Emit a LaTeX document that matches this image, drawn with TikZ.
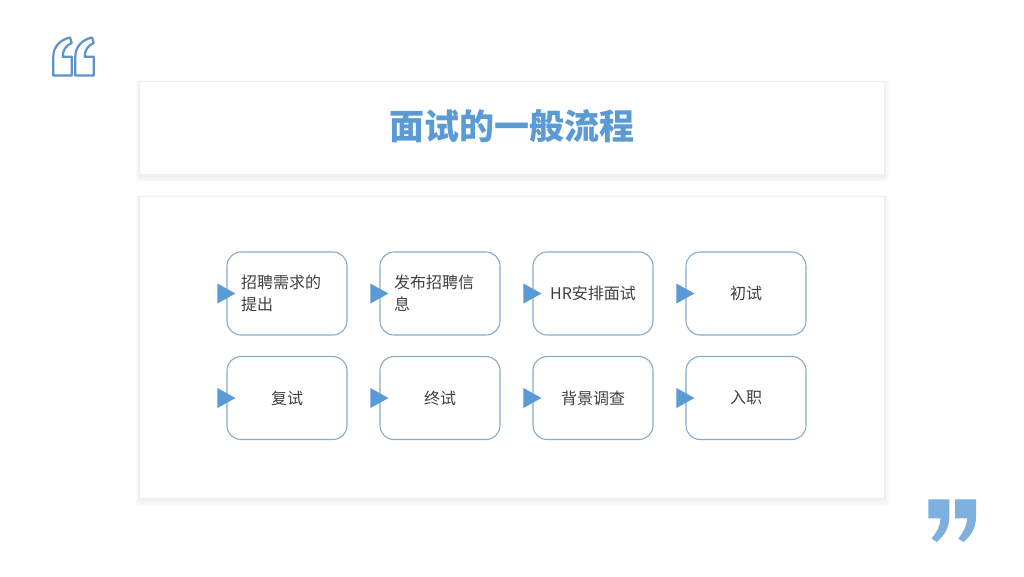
\documentclass[tikz,border=0pt]{standalone}
\usepackage{fontspec}
\setmainfont{Noto Sans CJK SC}
\newfontfamily\cjk{Noto Sans CJK SC}
\definecolor{titleblue}{HTML}{5B9BD5}
\definecolor{boxline}{HTML}{86ACCD}
\definecolor{triblue}{HTML}{5B9BD5}
\definecolor{quoteline}{HTML}{5D93C8}
\definecolor{quotefill}{HTML}{7EB0DF}
\definecolor{txt}{HTML}{404040}
\begin{document}
\begin{tikzpicture}[x=1pt,y=-1pt,
  stepbox/.style={draw=boxline,line width=1.1pt,rounded corners=14pt,fill=white,
    minimum width=120pt,minimum height=83pt,inner sep=0pt,font=\cjk\fontsize{16}{22}\selectfont,text=txt},
  leftbox/.style={stepbox,text width=92pt,align=left},
  tri/.style={fill=triblue},
  panel/.style={fill=white},
  shadow/.style={fill=black,opacity=0.013}
]
\useasboundingbox (0,0) rectangle (1024,576);
\fill[white] (0,0) rectangle (1024,576);

% panel shadows
\foreach \d in {1,2,3,4,5,6}{
  \fill[shadow] (140-\d*0.7,82-\d*0.3) rectangle (884+\d*0.8,174+\d*1.4);
  \fill[shadow] (140-\d*0.7,197-\d*0.3) rectangle (884+\d*0.8,498+\d*1.4);
}
\fill[panel] (140,82) rectangle (884,174);
\fill[panel] (140,197) rectangle (884,498);

% title
\node[font=\cjk\bfseries\fontsize{35}{38}\selectfont,text=titleblue] (title) at (512,126) {面试的一般流程};

% boxes
\node[leftbox] (b1) at (287,293.5) {招聘需求的\\提出};
\node[leftbox] (b2) at (440,293.5) {发布招聘信\\息};
\node[stepbox] (b3) at (593,293.5) {HR安排面试};
\node[stepbox] (b4) at (746,293.5) {初试};
\node[stepbox] (b5) at (287,398) {复试};
\node[stepbox] (b6) at (440,398) {终试};
\node[stepbox] (b7) at (593,398) {背景调查};
\node[stepbox] (b8) at (746,398) {入职};

\foreach \b in {b1,b2,b3,b4,b5,b6,b7,b8}{
  \fill[tri] ([xshift=-9pt,yshift=10pt]\b.west) -- ([xshift=9pt]\b.west) -- ([xshift=-9pt,yshift=-10pt]\b.west) -- cycle;
}

% left quote (outline)
\foreach \dx in {0,22}{
\begin{scope}[xshift=\dx]
\draw[quoteline,line width=2.2pt,line join=round]
 (53.3,75.5) -- (71.7,75.5) -- (71.7,56.7) -- (62.7,56.7)
 .. controls (62.7,50) and (66,45.5) .. (71.7,43)
 -- (70,37.5)
 .. controls (61,39.5) and (53.3,46) .. (53.3,56.7) -- cycle;
\end{scope}
}

% right quote (filled)
\foreach \dx in {0,26.7}{
\begin{scope}[xshift=\dx]
\fill[quotefill]
 (928.3,499.3) -- (949.3,499.3) -- (949.3,517)
 .. controls (949.3,528) and (944,536) .. (936.7,542)
 -- (931.5,538.5)
 .. controls (937,532) and (940,526) .. (940.5,518.3)
 -- (928.3,518.3) -- cycle;
\end{scope}
}
\end{tikzpicture}
\end{document}
